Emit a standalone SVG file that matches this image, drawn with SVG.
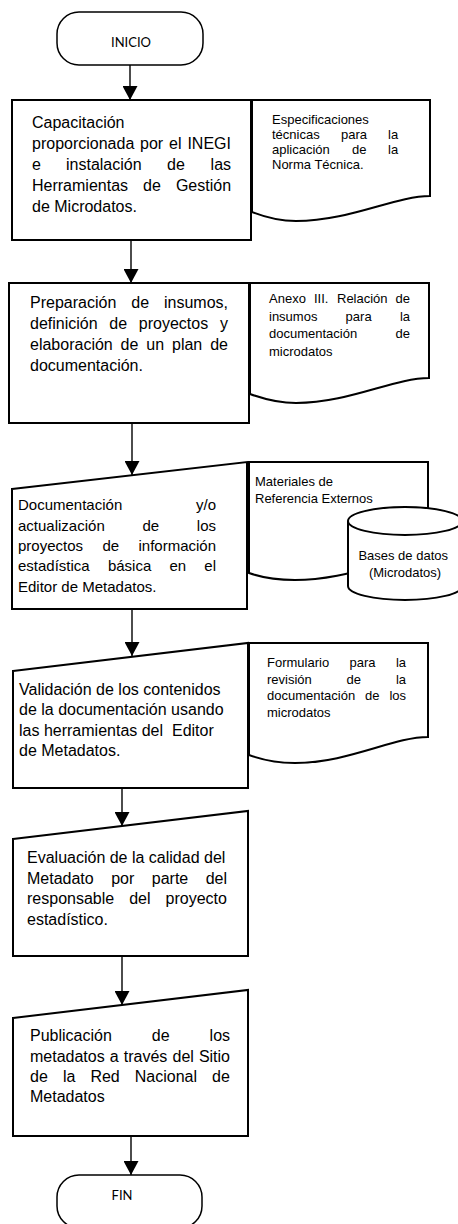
<svg xmlns="http://www.w3.org/2000/svg" width="458" height="1224" viewBox="0 0 458 1224">
<style>
.sh{fill:#fff;stroke:#000;stroke-width:2}
.sh1{fill:#fff;stroke:#000;stroke-width:1.5}
.t16{font-family:"Liberation Sans",Arial,sans-serif;font-size:16px;fill:#000}
.t15{font-family:"Liberation Sans",Arial,sans-serif;font-size:15px;fill:#000}
.t13{font-family:"Liberation Sans",Arial,sans-serif;font-size:13px;fill:#000}
.term{font-family:Lato,"Liberation Sans",sans-serif;font-size:13px;fill:#000;text-anchor:middle}
.con{fill:none;stroke:#000;stroke-width:1.4}
</style>
<defs>
<marker id="ah" markerUnits="userSpaceOnUse" markerWidth="15" markerHeight="15" refX="14" refY="7.5" orient="auto">
<path d="M0,0 L14,7.5 L0,15 Z" fill="#000"/>
</marker>
</defs>

<g id="inicio">
<rect class="sh1" x="57" y="12" width="146" height="53" rx="22" ry="22"/>
<text class="term" x="131" y="47">INICIO</text>
</g>

<g id="doc1">
<path class="sh" d="M252,100 H430 V196 C395,196 350,221 296,221 C277,221 262,216 252,212 Z"/>
<text class="t13">
<tspan x="272" y="124">Especificaciones</tspan>
<tspan x="272" y="139">técnicas</tspan><tspan x="341" y="139">para</tspan><tspan x="388" y="139">la</tspan>
<tspan x="272" y="154">aplicación</tspan><tspan x="352" y="154">de</tspan><tspan x="388" y="154">la</tspan>
<tspan x="272" y="169">Norma Técnica.</tspan>
</text>
</g>

<g id="box1">
<rect class="sh" x="12" y="100" width="239" height="140"/>
<text class="t16">
<tspan x="32" y="128">Capacitación</tspan>
<tspan x="32" y="149">proporcionada</tspan><tspan x="140" y="149">por</tspan><tspan x="169" y="149">el</tspan><tspan x="187.4" y="149">INEGI</tspan>
<tspan x="32" y="170">e</tspan><tspan x="66" y="170">instalación</tspan><tspan x="167" y="170">de</tspan><tspan x="210.6" y="170">las</tspan>
<tspan x="32" y="191">Herramientas</tspan><tspan x="143" y="191">de</tspan><tspan x="175.9" y="191">Gestión</tspan>
<tspan x="32" y="212">de Microdatos.</tspan>
</text>
</g>

<g id="doc2">
<path class="sh" d="M250,283 H429 V378 C394,378 349,403 296,403 C277,403 261,398 250,394 Z"/>
<text class="t13">
<tspan x="269" y="303">Anexo</tspan><tspan x="314" y="303">III.</tspan><tspan x="337" y="303">Relación</tspan><tspan x="395.5" y="303">de</tspan>
<tspan x="269" y="320.5">insumos</tspan><tspan x="345.6" y="320.5">para</tspan><tspan x="399.9" y="320.5">la</tspan>
<tspan x="269" y="338">documentación</tspan><tspan x="395.5" y="338">de</tspan>
<tspan x="269" y="356">microdatos</tspan>
</text>
</g>

<g id="box2">
<rect class="sh" x="9" y="283" width="240" height="140"/>
<text class="t16">
<tspan x="30" y="308">Preparación</tspan><tspan x="131.3" y="308">de</tspan><tspan x="164" y="308">insumos,</tspan>
<tspan x="30" y="329">definición</tspan><tspan x="109.3" y="329">de</tspan><tspan x="138.8" y="329">proyectos</tspan><tspan x="220" y="329">y</tspan>
<tspan x="30" y="350">elaboración</tspan><tspan x="120.6" y="350">de</tspan><tspan x="146.3" y="350">un</tspan><tspan x="172" y="350">plan</tspan><tspan x="210.2" y="350">de</tspan>
<tspan x="30" y="371">documentación.</tspan>
</text>
</g>

<g id="doc3">
<path class="sh" d="M249,462 H428 V557 C393,557 348,580 295,580 C276,580 260,577 249,573 Z"/>
<text class="t13">
<tspan x="255" y="486">Materiales de</tspan>
<tspan x="255" y="503">Referencia Externos</tspan>
</text>
</g>

<g id="db">
<path class="sh" d="M348,521 V586 A57,14 0 0 0 462,586 V521"/>
<ellipse class="sh" cx="405" cy="521" rx="57" ry="14"/>
<text class="t13" text-anchor="middle">
<tspan x="405" y="560">Bases de datos</tspan>
<tspan x="405" y="577">(Microdatos)</tspan>
</text>
</g>

<g id="box3">
<path class="sh" d="M12,489 L247,462 V609 H12 Z"/>
<text class="t15">
<tspan x="18" y="510">Documentación</tspan><tspan x="196" y="510">y/o</tspan>
<tspan x="18" y="531">actualización</tspan><tspan x="142.4" y="531">de</tspan><tspan x="196.8" y="531">los</tspan>
<tspan x="18" y="551">proyectos</tspan><tspan x="102.4" y="551">de</tspan><tspan x="138.5" y="551">información</tspan>
<tspan x="18" y="571">estadística</tspan><tspan x="107.9" y="571">básica</tspan><tspan x="169.5" y="571">en</tspan><tspan x="204.3" y="571">el</tspan>
<tspan x="18" y="592">Editor de Metadatos.</tspan>
</text>
</g>

<g id="doc4">
<path class="sh" d="M249,643 H428 V737 C393,737 348,763 295,763 C276,763 260,759 249,755 Z"/>
<text class="t13">
<tspan x="267" y="667">Formulario</tspan><tspan x="349.5" y="667">para</tspan><tspan x="395.9" y="667">la</tspan>
<tspan x="267" y="684">revisión</tspan><tspan x="346.6" y="684">de</tspan><tspan x="395.9" y="684">la</tspan>
<tspan x="267" y="700">documentación</tspan><tspan x="365" y="700">de</tspan><tspan x="389.4" y="700">los</tspan>
<tspan x="267" y="717">microdatos</tspan>
</text>
</g>

<g id="box4">
<path class="sh" d="M13,671 L248,643 V788 H13 Z"/>
<text class="t16" xml:space="preserve">
<tspan x="19" y="695">Validación de los contenidos</tspan>
<tspan x="19" y="715">de la documentación usando</tspan>
<tspan x="19" y="736">las herramientas del  Editor</tspan>
<tspan x="19" y="756">de Metadatos.</tspan>
</text>
</g>

<g id="box5">
<path class="sh" d="M13,839 L248,811 V956 H13 Z"/>
<text class="t16">
<tspan x="27" y="863">Evaluación de la calidad del</tspan>
<tspan x="27" y="884">Metadato</tspan><tspan x="111.2" y="884">por</tspan><tspan x="151.8" y="884">parte</tspan><tspan x="205.7" y="884">del</tspan>
<tspan x="27" y="904">responsable</tspan><tspan x="129.2" y="904">del</tspan><tspan x="165.6" y="904">proyecto</tspan>
<tspan x="27" y="925">estadístico.</tspan>
</text>
</g>

<g id="box6">
<path class="sh" d="M13,1018 L248,990 V1136 H13 Z"/>
<text class="t16">
<tspan x="30" y="1041">Publicación</tspan><tspan x="151.8" y="1041">de</tspan><tspan x="209.6" y="1041">los</tspan>
<tspan x="30" y="1062">metadatos</tspan><tspan x="109.8" y="1062">a</tspan><tspan x="123.8" y="1062">través</tspan><tspan x="172.5" y="1062">del</tspan><tspan x="198.9" y="1062">Sitio</tspan>
<tspan x="30" y="1082">de</tspan><tspan x="62.9" y="1082">la</tspan><tspan x="90.4" y="1082">Red</tspan><tspan x="134.8" y="1082">Nacional</tspan><tspan x="212.1" y="1082">de</tspan>
<tspan x="30" y="1102">Metadatos</tspan>
</text>
</g>

<g id="fin">
<rect class="sh1" x="57" y="1175" width="145" height="53" rx="22" ry="22"/>
<text class="term" x="122" y="1200">FIN</text>
</g>

<g id="connectors">
<line class="con" x1="130" y1="65" x2="130" y2="100" marker-end="url(#ah)"/>
<line class="con" x1="131" y1="240" x2="131" y2="283" marker-end="url(#ah)"/>
<line class="con" x1="132" y1="423" x2="132" y2="475" marker-end="url(#ah)"/>
<line class="con" x1="132" y1="609" x2="132" y2="656" marker-end="url(#ah)"/>
<line class="con" x1="122" y1="788" x2="122" y2="826" marker-end="url(#ah)"/>
<line class="con" x1="122" y1="956" x2="122" y2="1005" marker-end="url(#ah)"/>
<line class="con" x1="131" y1="1136" x2="131" y2="1175" marker-end="url(#ah)"/>
</g>
</svg>
